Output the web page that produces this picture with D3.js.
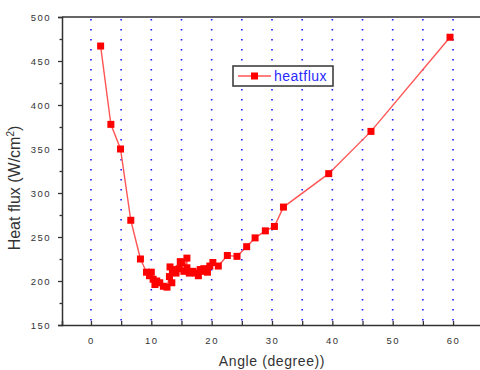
<!DOCTYPE html>
<html>
<head>
<meta charset="utf-8">
<script src="https://cdn.jsdelivr.net/npm/d3@7"></script>
<style>
  html, body { margin: 0; padding: 0; background: #fff; }
  svg { display: block; font-family: "Liberation Sans", Arial, sans-serif; }
</style>
</head>
<body>
<svg id="chart" width="480" height="370"></svg>
<script>
// data
var angle = [1.6, 3.3, 4.9, 6.6, 8.2, 9.2, 9.7, 10.0, 10.3, 10.6, 10.9, 11.4, 12.0, 12.6, 13.0, 13.1,
  13.4, 13.5, 14.1, 14.6, 14.8, 15.0, 15.4, 15.9, 15.9, 16.3, 16.9, 17.3, 17.8, 18.1, 18.2, 18.7,
  19.3, 19.7, 20.2, 21.1, 22.6, 24.2, 25.8, 27.2, 28.9, 30.4, 31.9, 39.4, 46.4, 59.5];
var heatflux = [467, 378, 350, 269, 225, 210, 206, 210, 202, 196, 200, 198, 194, 193, 205, 216,
  198, 213, 209, 214, 222, 221, 211, 226, 215, 209, 211, 209, 206, 213, 211, 214,
  210, 217, 221, 217, 229, 228, 239, 249, 257, 262, 284, 322, 370, 477];
var xTicks = [0, 10, 20, 30, 40, 50, 60];
var xMinor = [5, 15, 25, 35, 45, 55];
var yTicks = [150, 200, 250, 300, 350, 400, 450, 500];
var yMinor = [175, 225, 275, 325, 375, 425, 475];
var seriesName = "heatflux";

var data = angle.map(function(a, i) { return {x: a, y: heatflux[i]}; });

var svg = d3.select("#chart");
var pLeft = 62, pRight = 482, pTop = 17, pBottom = 325;

var x = d3.scaleLinear().domain([-4.8, 64.8]).range([pLeft, pRight]);
var y = d3.scaleLinear().domain([150, 500]).range([pBottom, pTop]);

// dotted vertical grid
svg.append("g").selectAll("line")
  .data(xTicks.concat(xMinor))
  .enter().append("line")
  .attr("x1", function(d) { return x(d); })
  .attr("x2", function(d) { return x(d); })
  .attr("y1", pTop + 2)
  .attr("y2", pBottom - 2)
  .attr("stroke", "#1a1aff")
  .attr("stroke-width", 1.6)
  .attr("stroke-dasharray", "1.6,8.4");

// top frame line
svg.append("line").attr("x1", pLeft).attr("x2", pRight).attr("y1", pTop).attr("y2", pTop)
  .attr("stroke", "#333").attr("stroke-width", 1.5);

// x axis (ticks inside)
var xAxis = svg.append("g").attr("transform", "translate(0," + pBottom + ")");
xAxis.call(d3.axisBottom(x).tickValues(xTicks).tickSize(-4).tickFormat(d3.format("d")));
xAxis.append("g").call(d3.axisBottom(x).tickValues(xMinor).tickSize(-4).tickFormat(""))
  .select(".domain").remove();
xAxis.selectAll(".domain").attr("stroke", "#333").attr("stroke-width", 1.5);
xAxis.selectAll(".tick line").attr("stroke", "#333").attr("stroke-width", 1.3);
xAxis.selectAll(".tick text")
  .attr("y", 12)
  .attr("fill", "#333")
  .style("font-size", "9.5px")
  .style("letter-spacing", "1.5px");

// y axis (ticks outside)
var yAxis = svg.append("g").attr("transform", "translate(" + pLeft + ",0)");
yAxis.call(d3.axisLeft(y).tickValues(yTicks).tickSize(4).tickPadding(7).tickFormat(d3.format("d")));
yAxis.append("g").call(d3.axisLeft(y).tickValues(yMinor).tickSize(2.5).tickFormat(""))
  .select(".domain").remove();
yAxis.selectAll(".domain").attr("stroke", "#333").attr("stroke-width", 1.5);
yAxis.selectAll(".tick line").attr("stroke", "#333").attr("stroke-width", 1.3);
yAxis.selectAll(".tick text")
  .attr("fill", "#333")
  .style("font-size", "9.5px")
  .style("letter-spacing", "1.5px");

// axis titles
svg.append("text")
  .attr("x", 272).attr("y", 366)
  .attr("text-anchor", "middle")
  .attr("fill", "#333")
  .style("font-size", "14px")
  .style("letter-spacing", "0.6px")
  .text("Angle (degree))");

var yt = svg.append("text")
  .attr("transform", "translate(20,188) rotate(-90)")
  .attr("text-anchor", "middle")
  .attr("fill", "#333")
  .style("font-size", "16px");
yt.append("tspan").text("Heat flux (W/cm");
yt.append("tspan").attr("dy", -6).style("font-size", "10px").text("2");
yt.append("tspan").attr("dy", 6).text(")");

// series line
var line = d3.line().x(function(d) { return x(d.x); }).y(function(d) { return y(d.y); });
svg.append("path")
  .datum(data)
  .attr("d", line)
  .attr("fill", "none")
  .attr("stroke", "#ff5555")
  .attr("stroke-width", 1.4);

// square markers
svg.append("g").selectAll("rect")
  .data(data)
  .enter().append("rect")
  .attr("x", function(d) { return x(d.x) - 3.5; })
  .attr("y", function(d) { return y(d.y) - 3.5; })
  .attr("width", 7)
  .attr("height", 7)
  .attr("fill", "#ff0000");

// legend
var lg = svg.append("g").attr("transform", "translate(233,66)");
lg.append("rect")
  .attr("width", 100).attr("height", 20)
  .attr("fill", "#fff")
  .attr("stroke", "#333")
  .attr("stroke-width", 1.5);
lg.append("line")
  .attr("x1", 5).attr("x2", 38).attr("y1", 10).attr("y2", 10)
  .attr("stroke", "#ff5555").attr("stroke-width", 1.4);
lg.append("rect")
  .attr("x", 18).attr("y", 6.5).attr("width", 7).attr("height", 7)
  .attr("fill", "#ff0000");
lg.append("text")
  .attr("x", 41).attr("y", 15)
  .attr("fill", "#2a2aff")
  .style("font-size", "14px")
  .style("letter-spacing", "0.5px")
  .text(seriesName);
</script>
</body>
</html>
